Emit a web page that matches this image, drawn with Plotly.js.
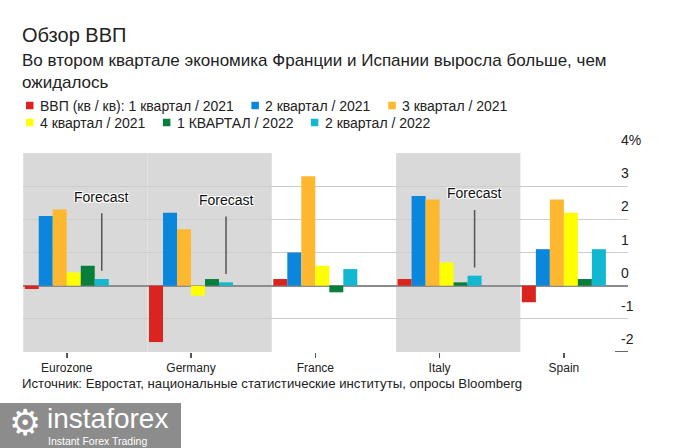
<!DOCTYPE html>
<html>
<head>
<meta charset="utf-8">
<script src="https://cdn.plot.ly/plotly-3.0.1.min.js"></script>
<style>html,body{margin:0;padding:0;background:#fff;}#chart{width:675px;height:448px;}</style>
</head>
<body>
<div id="chart"></div>
<script>
// ---- data ----
var categories = ['Eurozone', 'Germany', 'France', 'Italy', 'Spain'];
var seriesNames = ['ВВП (кв / кв): 1 квартал / 2021', '2 квартал / 2021', '3 квартал / 2021',
                   '4 квартал / 2021', '1 КВАРТАЛ / 2022', '2 квартал / 2022'];
var q1_2021 = [-0.1, -1.7, 0.2, 0.2, -0.5];
var q2_2021 = [2.1, 2.2, 1.0, 2.7, 1.1];
var q3_2021 = [2.3, 1.7, 3.3, 2.6, 2.6];
var q4_2021 = [0.4, -0.3, 0.6, 0.7, 2.2];
var q1_2022 = [0.6, 0.2, -0.2, 0.1, 0.2];
var q2_2022 = [0.2, 0.1, 0.5, 0.3, 1.1];
var shadedCategories = ['Eurozone', 'Germany', 'Italy'];
var forecastCategories = ['Eurozone', 'Germany', 'Italy'];
var yTickValues = [-2, -1, 0, 1, 2, 3, 4];
var yTickLabels = ['-2', '-1', '0', '1', '2', '3', '4%'];
var titleText = 'Обзор ВВП';
var subtitleText = 'Во втором квартале экономика Франции и Испании выросла больше, чем<br>ожидалось';
var sourceText = 'Источник: Евростат, национальные статистические институты, опросы Bloomberg';

// ---- styles ----
var colors = ['#dc241f', '#0a87dc', '#fdb82f', '#ffff00', '#087e3d', '#12b8d0'];
var seriesValues = [q1_2021, q2_2021, q3_2021, q4_2021, q1_2022, q2_2022];
var bargap = 0.324;
var FONT = 'Liberation Sans, Arial, sans-serif';

var traces = seriesValues.map(function (vals, i) {
  return {
    type: 'bar', x: categories, y: vals, name: seriesNames[i],
    marker: {color: colors[i], line: {width: 0}},
    showlegend: false,
    hoverinfo: 'x+y+name'
  };
});

// plot geometry in px
var L = 23, R = 628, T = 153, B = 352, W = 675, H = 448;
function px2paperX(px) { return (px - L) / (R - L); }
function px2paperY(py) { return (B - py) / (B - T); }

var shapes = [];
var annotations = [];

shadedCategories.forEach(function (c) {
  var idx = categories.indexOf(c);
  shapes.push({type: 'rect', xref: 'x', yref: 'y', x0: idx - 0.35, x1: idx + 0.65,
    y0: -2, y1: 4, fillcolor: '#d9d9d9', line: {width: 0}, layer: 'below'});
});
// short dark mark at bottom right
shapes.push({type: 'line', xref: 'paper', yref: 'y', x0: px2paperX(615), x1: 1, y0: -2, y1: -2,
  line: {color: '#666', width: 2}});

// ---- flowing legend (built from seriesNames / colors) ----
var LEG_SIZE = 14;
var ctx = document.createElement('canvas').getContext('2d');
ctx.font = LEG_SIZE + 'px "Liberation Sans", Arial, sans-serif';
var legX = 26, legRow = 0, rowY = [105.5, 122.5], legMax = 560;
seriesNames.forEach(function (name, i) {
  var tw = ctx.measureText(name).width;
  if (legX + 14 + tw > legMax && legX > 26) { legRow++; legX = 26; }
  var y = rowY[legRow];
  shapes.push({type: 'rect', xref: 'paper', yref: 'paper', x0: px2paperX(legX), x1: px2paperX(legX + 7.5),
    y0: px2paperY(y + 3.75), y1: px2paperY(y - 3.75), fillcolor: colors[i], line: {width: 0}});
  annotations.push({xref: 'paper', yref: 'paper', x: px2paperX(legX + 13), y: px2paperY(y), xanchor: 'left',
    yanchor: 'middle', showarrow: false, borderpad: 0, text: name,
    font: {family: FONT, size: LEG_SIZE, color: '#222'}});
  legX = legX + 13.5 + tw + 18;
});

// logo box
shapes.push({type: 'rect', xref: 'paper', yref: 'paper', x0: px2paperX(0), x1: px2paperX(181),
  y0: px2paperY(448), y1: px2paperY(403), fillcolor: '#8c8c8c', line: {width: 0}, layer: 'above'});

// y tick labels above gridlines
yTickValues.forEach(function (v, i) {
  annotations.push({xref: 'paper', yref: 'y', x: px2paperX(619), y: v, xanchor: 'left', yanchor: 'bottom',
    yshift: 3, text: yTickLabels[i], showarrow: false, font: {family: FONT, size: 14, color: '#222'}});
});
// forecast labels
var barW = (1 - bargap) / seriesValues.length;
var cyanOffset = (seriesValues.length - 1) / 2 * barW;
forecastCategories.forEach(function (c) {
  var idx = categories.indexOf(c);
  annotations.push({xref: 'x', yref: 'y', x: idx + cyanOffset, y: q2_2022[idx] + 0.25,
    ax: 0, ay: -74, showarrow: true, arrowhead: 0, arrowwidth: 1.5, arrowcolor: '#555', standoff: 0,
    borderpad: 8, text: 'Forecast',
    font: {family: FONT, size: 14, color: '#111',
      shadow: '-1px -1px 0 #fff, 1px -1px 0 #fff, -1px 1px 0 #fff, 1px 1px 0 #fff, 0 0 2px #fff'}});
});
// subtitle
annotations.push({xref: 'paper', yref: 'paper', x: px2paperX(20), y: px2paperY(71), xanchor: 'left', yanchor: 'middle',
  align: 'left', showarrow: false, text: subtitleText,
  font: {family: FONT, size: 17, color: '#222'}});
// source
annotations.push({xref: 'paper', yref: 'paper', x: px2paperX(20), y: px2paperY(383), xanchor: 'left', yanchor: 'middle',
  showarrow: false, text: sourceText, font: {family: FONT, size: 13.2, color: '#222'}});
// logo
annotations.push({xref: 'paper', yref: 'paper', x: px2paperX(25), y: px2paperY(422), xanchor: 'center', yanchor: 'middle',
  showarrow: false, text: '⚙', font: {family: 'DejaVu Sans', size: 36, color: '#fff'}});
annotations.push({xref: 'paper', yref: 'paper', x: px2paperX(46), y: px2paperY(418), xanchor: 'left', yanchor: 'middle',
  showarrow: false, borderpad: 0, text: 'instaforex', font: {family: FONT, size: 28, color: '#fff'}});
annotations.push({xref: 'paper', yref: 'paper', x: px2paperX(47), y: px2paperY(441), xanchor: 'left', yanchor: 'middle',
  showarrow: false, borderpad: 0, text: 'Instant Forex Trading', font: {family: FONT, size: 10.5, color: '#fff'}});

var layout = {
  width: W, height: H,
  margin: {l: L, r: W - R, t: T, b: H - B, pad: 0},
  paper_bgcolor: '#fff', plot_bgcolor: 'rgba(0,0,0,0)',
  font: {family: FONT, size: 13, color: '#222'},
  title: {text: titleText, xref: 'container', yref: 'container', x: 22 / W, xanchor: 'left',
    y: 1 - 35 / H, yanchor: 'middle', font: {family: FONT, size: 20, color: '#222'}},
  barmode: 'group', bargap: bargap, bargroupgap: 0,
  showlegend: false,
  xaxis: {type: 'category', range: [-0.352, 4.516], showgrid: false, zeroline: false, showline: false,
    ticks: 'outside', ticklen: 5, tickwidth: 1.5, tickcolor: '#555',
    tickfont: {family: FONT, size: 12, color: '#222'}, fixedrange: true},
  yaxis: {range: [-2, 4], tickvals: [-1, 0, 1, 2, 3, 4], showticklabels: false, showgrid: true,
    gridcolor: '#cdcdcd', gridwidth: 1, zeroline: true, zerolinecolor: '#8c8c8c', zerolinewidth: 2,
    showline: false, ticks: '', fixedrange: true},
  shapes: shapes,
  annotations: annotations
};

Plotly.newPlot('chart', traces, layout, {displayModeBar: false, staticPlot: true});
</script>
</body>
</html>
